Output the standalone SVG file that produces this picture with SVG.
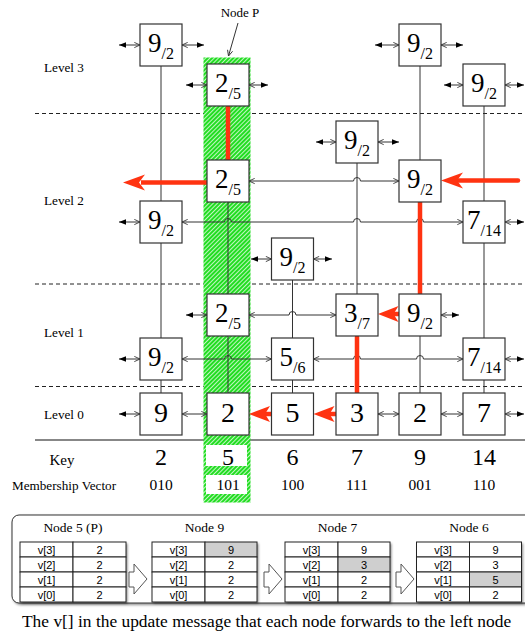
<svg xmlns="http://www.w3.org/2000/svg" width="525" height="644" viewBox="0 0 525 644">
<style>
.box{fill:#fff;stroke:#333;stroke-width:1.2}
.t{font-family:"Liberation Serif","Times New Roman",serif;fill:#000}
.big{font-size:27px}
.sub{font-size:16px}
.n0{font-size:28px}
.lk{fill:none;stroke:#333;stroke-width:1}
.sl{marker-start:url(#fl);marker-end:url(#op)}
.sr{marker-start:url(#op);marker-end:url(#fl)}
.lb{marker-start:url(#op);marker-end:url(#op)}
.red{stroke:#ff3311;stroke-width:4.5;fill:none}
.rh{fill:#ff3311}
.lbl{font-family:"Liberation Serif","Times New Roman",serif;font-size:13.2px}
.dash{stroke:#222;stroke-width:1;stroke-dasharray:4 3}
.cell{fill:#fff;stroke:#222;stroke-width:1}
.tt{font-family:"Liberation Sans",Arial,sans-serif;font-size:11px;text-anchor:middle}
.ttl{font-family:"Liberation Serif","Times New Roman",serif;font-size:13.5px;text-anchor:middle}
.harr{fill:#fff;stroke:#555;stroke-width:1}
</style>
<defs>
<marker id="op" viewBox="0 0 8 8" refX="7.5" refY="4" markerWidth="7" markerHeight="7" markerUnits="userSpaceOnUse" orient="auto-start-reverse"><path d="M1,1 L7.5,4 L1,7" fill="none" stroke="#333" stroke-width="1"/></marker>
<marker id="fl" viewBox="0 0 8 8" refX="8" refY="4" markerWidth="7" markerHeight="7" markerUnits="userSpaceOnUse" orient="auto-start-reverse"><path d="M0,0.8 L8,4 L0,7.2 z" fill="#000"/></marker>
<pattern id="hatch" width="3" height="3" patternUnits="userSpaceOnUse" patternTransform="rotate(45)"><rect width="3" height="3" fill="#22dd22"/><rect width="0.9" height="3" fill="#fff" opacity="0.8"/></pattern>
<filter id="sh" x="-5%" y="-5%" width="115%" height="130%"><feDropShadow dx="1.5" dy="1.5" stdDeviation="1" flood-color="#000" flood-opacity="0.45"/></filter>
</defs>
<rect width="525" height="644" fill="#fff"/>

<g id="levels">
<line class="dash" x1="35" y1="113.5" x2="525" y2="113.5"/>
<line class="dash" x1="35" y1="284" x2="525" y2="284"/>
<line class="dash" x1="35" y1="386.5" x2="525" y2="386.5"/>
<line x1="35" y1="440" x2="525" y2="440" stroke="#111" stroke-width="1.2"/>
<text class="lbl" x="44" y="72">Level 3</text>
<text class="lbl" x="44" y="205">Level 2</text>
<text class="lbl" x="44" y="337">Level 1</text>
<text class="lbl" x="44" y="419">Level 0</text>
</g>

<g id="nodeP-highlight">
<rect x="203.5" y="57.5" width="47" height="445" fill="url(#hatch)"/>
<rect x="206" y="445" width="41" height="21" fill="#fff"/>
<rect x="206" y="475" width="41" height="19" fill="#fff"/>
<text class="t" x="240" y="17" font-size="13" text-anchor="middle">Node P</text>
<path class="lk" d="M238,23 L228.5,56" style="marker-end:url(#op)"/>
</g>

<g id="keys" class="t" text-anchor="middle">
<text x="62" y="465" font-size="15">Key</text>
<text x="161" y="465" font-size="24">2</text>
<text x="228" y="465" font-size="24">5</text>
<text x="292.5" y="465" font-size="24">6</text>
<text x="357" y="465" font-size="24">7</text>
<text x="420" y="465" font-size="24">9</text>
<text x="484" y="465" font-size="24">14</text>
<text x="64" y="490" font-size="13.2">Membership Vector</text>
<text x="161" y="490" font-size="15.5">010</text>
<text x="228" y="490" font-size="15.5">101</text>
<text x="292.5" y="490" font-size="15.5">100</text>
<text x="357" y="490" font-size="15.5">111</text>
<text x="420" y="490" font-size="15.5">001</text>
<text x="484" y="490" font-size="15.5">110</text>
</g>

<g id="connectors">
<path class="lk" d="M161,66 V201 M161,243 V338 M161,380 V393"/>
<path class="lk" d="M228,202 V294 M228,336 V393"/>
<path class="lk" d="M292.5,280 V338 M292.5,380 V393"/>
<path class="lk" d="M357,163 V294"/>
<path class="lk" d="M420,66 V160 M420,336 V393"/>
<path class="lk" d="M484,106 V201 M484,243 V338 M484,380 V393"/>
<path class="lk sl" d="M119,45 H140"/><path class="lk sr" d="M182,45 H204"/>
<path class="lk sl" d="M375,45 H399"/><path class="lk sr" d="M441,45 H463"/>
<path class="lk sl" d="M186,85 H207"/><path class="lk sr" d="M249,85 H268"/>
<path class="lk sl" d="M444,85 H463"/><path class="lk sr" d="M505,85 H524"/>
<path class="lk sl" d="M316,142 H336"/><path class="lk sr" d="M378,142 H399"/>
<path class="lk sl" d="M119,222 H140"/><path class="lk sr" d="M505,222 H524"/>
<path class="lk sl" d="M251,259 H271.5"/><path class="lk sr" d="M313.5,259 H332"/>
<path class="lk sl" d="M186,315 H207"/><path class="lk sr" d="M441,315 H459"/>
<path class="lk sl" d="M119,359 H140"/><path class="lk sr" d="M505,359 H524"/>
<path class="lk sl" d="M119,414 H140"/><path class="lk sr" d="M505,414 H524"/>
<path class="lk lb" d="M249,181 H353.5 a3.5,3.5 0 0 1 7,0 H399"/>
<path class="lk lb" d="M182,222 H224.5 a3.5,3.5 0 0 1 7,0 H353.5 a3.5,3.5 0 0 1 7,0 H416.5 a3.5,3.5 0 0 1 7,0 H463"/>
<path class="lk lb" d="M249,315 H289 a3.5,3.5 0 0 1 7,0 H336"/>
<path class="lk lb" d="M182,359 H224.5 a3.5,3.5 0 0 1 7,0 H271.5"/>
<path class="lk lb" d="M313.5,359 H353.5 a3.5,3.5 0 0 1 7,0 H416.5 a3.5,3.5 0 0 1 7,0 H463"/>
<path class="lk lb" d="M182,414 H207"/>
<path class="lk lb" d="M378,414 H399"/>
<path class="lk lb" d="M441,414 H463"/>
<path class="red" d="M228,106 V160"/>
<path class="red" d="M420,202 V294"/>
<path class="red" d="M357,337 V393" stroke-linecap="round"/>
<path class="red" d="M207,182.5 H141" stroke-width="5.5"/>
<polygon class="rh" points="123,182.5 145,174.5 139,182.5 145,190.5"/>
<path class="red" d="M518,180.5 H458" stroke-width="5" stroke-linecap="round"/>
<polygon class="rh" points="441,180.5 463,172.5 457,180.5 463,188.5"/>
<path class="red" d="M399,314 H393"/>
<polygon class="rh" points="378,314 398.5,306 393.5,314 398.5,322"/>
<path class="red" d="M271.5,414 H265"/>
<polygon class="rh" points="249,414 270,406 265,414 270,422"/>
<path class="red" d="M336,414 H329"/>
<polygon class="rh" points="313.5,414 334.5,406 329.5,414 334.5,422"/>
</g>

<g id="n2">
<g id="n2-l3"><rect class="box" x="140" y="24" width="42" height="42"/><text class="t" x="161" y="51.5" text-anchor="middle"><tspan class="big">9</tspan><tspan class="sub" dy="7">/2</tspan></text></g>
<g id="n2-l2"><rect class="box" x="140" y="201" width="42" height="42"/><text class="t" x="161" y="228.5" text-anchor="middle"><tspan class="big">9</tspan><tspan class="sub" dy="7">/2</tspan></text></g>
<g id="n2-l1"><rect class="box" x="140" y="338" width="42" height="42"/><text class="t" x="161" y="365.5" text-anchor="middle"><tspan class="big">9</tspan><tspan class="sub" dy="7">/2</tspan></text></g>
<g id="n2-l0"><rect class="box" x="140" y="393" width="42" height="42"/><text class="t n0" x="161" y="422" text-anchor="middle">9</text></g>
</g>
<g id="n5">
<g id="n5-l3"><rect class="box" x="207" y="64" width="42" height="42"/><text class="t" x="228" y="91.5" text-anchor="middle"><tspan class="big">2</tspan><tspan class="sub" dy="7">/5</tspan></text></g>
<g id="n5-l2"><rect class="box" x="207" y="160" width="42" height="42"/><text class="t" x="228" y="187.5" text-anchor="middle"><tspan class="big">2</tspan><tspan class="sub" dy="7">/5</tspan></text></g>
<g id="n5-l1"><rect class="box" x="207" y="294" width="42" height="42"/><text class="t" x="228" y="321.5" text-anchor="middle"><tspan class="big">2</tspan><tspan class="sub" dy="7">/5</tspan></text></g>
<g id="n5-l0"><rect class="box" x="207" y="393" width="42" height="42"/><text class="t n0" x="228" y="422" text-anchor="middle">2</text></g>
</g>
<g id="n6">
<g id="n6-l2"><rect class="box" x="271.5" y="238" width="42" height="42"/><text class="t" x="292.5" y="265.5" text-anchor="middle"><tspan class="big">9</tspan><tspan class="sub" dy="7">/2</tspan></text></g>
<g id="n6-l1"><rect class="box" x="271.5" y="338" width="42" height="42"/><text class="t" x="292.5" y="365.5" text-anchor="middle"><tspan class="big">5</tspan><tspan class="sub" dy="7">/6</tspan></text></g>
<g id="n6-l0"><rect class="box" x="271.5" y="393" width="42" height="42"/><text class="t n0" x="292.5" y="422" text-anchor="middle">5</text></g>
</g>
<g id="n7">
<g id="n7-l2"><rect class="box" x="336" y="121" width="42" height="42"/><text class="t" x="357" y="148.5" text-anchor="middle"><tspan class="big">9</tspan><tspan class="sub" dy="7">/2</tspan></text></g>
<g id="n7-l1"><rect class="box" x="336" y="294" width="42" height="42"/><text class="t" x="357" y="321.5" text-anchor="middle"><tspan class="big">3</tspan><tspan class="sub" dy="7">/7</tspan></text></g>
<g id="n7-l0"><rect class="box" x="336" y="393" width="42" height="42"/><text class="t n0" x="357" y="422" text-anchor="middle">3</text></g>
</g>
<g id="n9">
<g id="n9-l3"><rect class="box" x="399" y="24" width="42" height="42"/><text class="t" x="420" y="51.5" text-anchor="middle"><tspan class="big">9</tspan><tspan class="sub" dy="7">/2</tspan></text></g>
<g id="n9-l2"><rect class="box" x="399" y="160" width="42" height="42"/><text class="t" x="420" y="187.5" text-anchor="middle"><tspan class="big">9</tspan><tspan class="sub" dy="7">/2</tspan></text></g>
<g id="n9-l1"><rect class="box" x="399" y="294" width="42" height="42"/><text class="t" x="420" y="321.5" text-anchor="middle"><tspan class="big">9</tspan><tspan class="sub" dy="7">/2</tspan></text></g>
<g id="n9-l0"><rect class="box" x="399" y="393" width="42" height="42"/><text class="t n0" x="420" y="422" text-anchor="middle">2</text></g>
</g>
<g id="n14">
<g id="n14-l3"><rect class="box" x="463" y="64" width="42" height="42"/><text class="t" x="484" y="91.5" text-anchor="middle"><tspan class="big">9</tspan><tspan class="sub" dy="7">/2</tspan></text></g>
<g id="n14-l2"><rect class="box" x="463" y="201" width="42" height="42"/><text class="t" x="484" y="228.5" text-anchor="middle"><tspan class="big">7</tspan><tspan class="sub" dy="7">/14</tspan></text></g>
<g id="n14-l1"><rect class="box" x="463" y="338" width="42" height="42"/><text class="t" x="484" y="365.5" text-anchor="middle"><tspan class="big">7</tspan><tspan class="sub" dy="7">/14</tspan></text></g>
<g id="n14-l0"><rect class="box" x="463" y="393" width="42" height="42"/><text class="t n0" x="484" y="422" text-anchor="middle">7</text></g>
</g>

<g id="panel">
<rect x="12" y="515" width="530" height="88" rx="7" fill="#fff" stroke="#333" stroke-width="1" filter="url(#sh)"/>
<g id="table-node5">
<text class="ttl" x="73" y="532">Node 5 (P)</text>
<rect x="20" y="542" width="106" height="60" fill="#fff" filter="url(#sh)"/>
<g class="cell"><rect x="20" y="542" width="53" height="15"/><rect x="73" y="542" width="53" height="15"/><rect x="20" y="557" width="53" height="15"/><rect x="73" y="557" width="53" height="15"/><rect x="20" y="572" width="53" height="15"/><rect x="73" y="572" width="53" height="15"/><rect x="20" y="587" width="53" height="15"/><rect x="73" y="587" width="53" height="15"/></g>
<text class="tt" x="46.5" y="553.5">v[3]</text><text class="tt" x="99.5" y="553.5">2</text>
<text class="tt" x="46.5" y="568.5">v[2]</text><text class="tt" x="99.5" y="568.5">2</text>
<text class="tt" x="46.5" y="583.5">v[1]</text><text class="tt" x="99.5" y="583.5">2</text>
<text class="tt" x="46.5" y="598.5">v[0]</text><text class="tt" x="99.5" y="598.5">2</text>
</g>
<g id="table-node9">
<text class="ttl" x="204.5" y="532">Node 9</text>
<rect x="152" y="542" width="105" height="60" fill="#fff" filter="url(#sh)"/>
<g class="cell"><rect x="152" y="542" width="53" height="15"/><rect x="205" y="542" width="52" height="15" style="fill:#cfcfcf"/><rect x="152" y="557" width="53" height="15"/><rect x="205" y="557" width="52" height="15"/><rect x="152" y="572" width="53" height="15"/><rect x="205" y="572" width="52" height="15"/><rect x="152" y="587" width="53" height="15"/><rect x="205" y="587" width="52" height="15"/></g>
<text class="tt" x="178.5" y="553.5">v[3]</text><text class="tt" x="231" y="553.5">9</text>
<text class="tt" x="178.5" y="568.5">v[2]</text><text class="tt" x="231" y="568.5">2</text>
<text class="tt" x="178.5" y="583.5">v[1]</text><text class="tt" x="231" y="583.5">2</text>
<text class="tt" x="178.5" y="598.5">v[0]</text><text class="tt" x="231" y="598.5">2</text>
</g>
<g id="table-node7">
<text class="ttl" x="337.5" y="532">Node 7</text>
<rect x="285" y="542" width="105" height="60" fill="#fff" filter="url(#sh)"/>
<g class="cell"><rect x="285" y="542" width="53" height="15"/><rect x="338" y="542" width="52" height="15"/><rect x="285" y="557" width="53" height="15"/><rect x="338" y="557" width="52" height="15" style="fill:#cfcfcf"/><rect x="285" y="572" width="53" height="15"/><rect x="338" y="572" width="52" height="15"/><rect x="285" y="587" width="53" height="15"/><rect x="338" y="587" width="52" height="15"/></g>
<text class="tt" x="311.5" y="553.5">v[3]</text><text class="tt" x="364" y="553.5">9</text>
<text class="tt" x="311.5" y="568.5">v[2]</text><text class="tt" x="364" y="568.5">3</text>
<text class="tt" x="311.5" y="583.5">v[1]</text><text class="tt" x="364" y="583.5">2</text>
<text class="tt" x="311.5" y="598.5">v[0]</text><text class="tt" x="364" y="598.5">2</text>
</g>
<g id="table-node6">
<text class="ttl" x="469" y="532">Node 6</text>
<rect x="416.5" y="542" width="105" height="60" fill="#fff" filter="url(#sh)"/>
<g class="cell"><rect x="416.5" y="542" width="53" height="15"/><rect x="469.5" y="542" width="52" height="15"/><rect x="416.5" y="557" width="53" height="15"/><rect x="469.5" y="557" width="52" height="15"/><rect x="416.5" y="572" width="53" height="15"/><rect x="469.5" y="572" width="52" height="15" style="fill:#cfcfcf"/><rect x="416.5" y="587" width="53" height="15"/><rect x="469.5" y="587" width="52" height="15"/></g>
<text class="tt" x="443" y="553.5">v[3]</text><text class="tt" x="495.5" y="553.5">9</text>
<text class="tt" x="443" y="568.5">v[2]</text><text class="tt" x="495.5" y="568.5">3</text>
<text class="tt" x="443" y="583.5">v[1]</text><text class="tt" x="495.5" y="583.5">5</text>
<text class="tt" x="443" y="598.5">v[0]</text><text class="tt" x="495.5" y="598.5">2</text>
</g>
<g id="flow-arrows">
<polygon class="harr" points="129,572 134,572 134,564 147,579 134,594 134,587 129,587"/>
<polygon class="harr" points="264,572 269,572 269,564 282,579 269,594 269,587 264,587"/>
<polygon class="harr" points="396,572 401,572 401,564 414,579 401,594 401,587 396,587"/>
</g>
</g>
<text id="caption" class="t" x="22" y="627" font-size="17.4">The v[] in the update message that each node forwards to the left node</text>
</svg>
